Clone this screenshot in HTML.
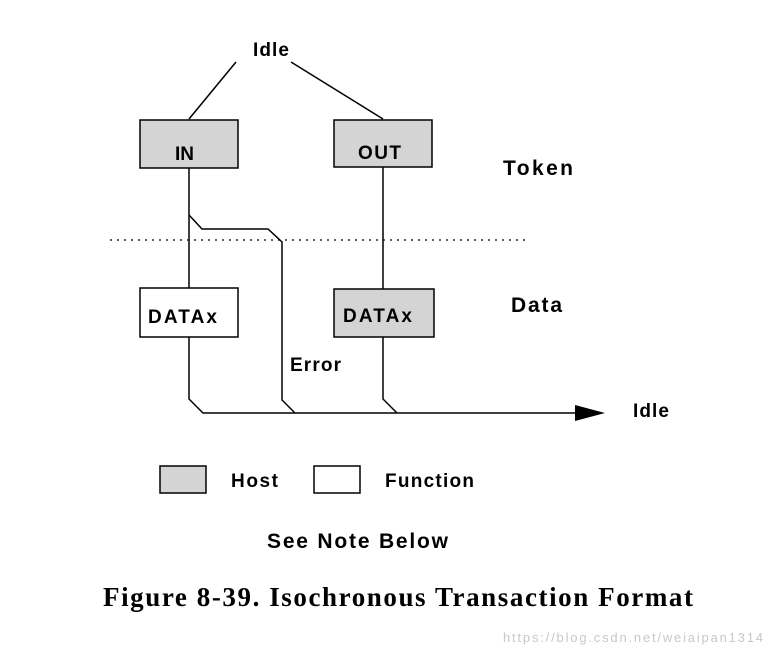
<!DOCTYPE html>
<html><head><style>
body{margin:0;background:#fff;}
svg text{font-family:"Liberation Sans",Arial,sans-serif;font-weight:bold;font-size:19px;fill:#000;}
</style></head><body>
<svg width="772" height="653" viewBox="0 0 772 653" xmlns="http://www.w3.org/2000/svg">
<text x="253" y="56" textLength="36">Idle</text>
<line x1="236" y1="62" x2="189" y2="119" stroke="#000" stroke-width="1.5"/>
<line x1="291" y1="62" x2="383" y2="119" stroke="#000" stroke-width="1.5"/>
<rect x="140" y="120" width="98" height="48" fill="#d4d4d4" stroke="#000" stroke-width="1.5"/>
<text x="175" y="160">IN</text>
<rect x="334" y="120" width="98" height="47" fill="#d4d4d4" stroke="#000" stroke-width="1.5"/>
<text x="358" y="159" textLength="43">OUT</text>
<text x="503" y="175" style="font-size:21px" textLength="70">Token</text>
<text x="511" y="312" style="font-size:21px" textLength="51">Data</text>
<line x1="110" y1="240" x2="528" y2="240" stroke="#000" stroke-width="1.2" stroke-dasharray="2,5"/>
<polyline points="189,168 189,288" fill="none" stroke="#000" stroke-width="1.5"/>
<polyline points="189,215 202,229 268,229 282,242 282,400 295,413" fill="none" stroke="#000" stroke-width="1.5"/>
<line x1="383" y1="167" x2="383" y2="289" stroke="#000" stroke-width="1.5"/>
<rect x="140" y="288" width="98" height="49" fill="#fff" stroke="#000" stroke-width="1.5"/>
<text x="148" y="323" textLength="69">DATAx</text>
<rect x="334" y="289" width="100" height="48" fill="#d4d4d4" stroke="#000" stroke-width="1.5"/>
<text x="343" y="322" textLength="69">DATAx</text>
<text x="290" y="371" textLength="51">Error</text>
<polyline points="189,337 189,399 203,413 580,413" fill="none" stroke="#000" stroke-width="1.5"/>
<polyline points="383,337 383,399 397,413" fill="none" stroke="#000" stroke-width="1.5"/>
<polygon points="575,405 605,413 575,421" fill="#000"/>
<text x="633" y="417" textLength="36">Idle</text>
<rect x="160" y="466" width="46" height="27" fill="#d4d4d4" stroke="#000" stroke-width="1.5"/>
<text x="231" y="487" textLength="47">Host</text>
<rect x="314" y="466" width="46" height="27" fill="#fff" stroke="#000" stroke-width="1.5"/>
<text x="385" y="487" textLength="89">Function</text>
<text x="267" y="548" style="font-size:21px" textLength="181">See Note Below</text>
<text x="103" y="606" style="font-family:'Liberation Serif',serif;font-size:27px" textLength="590">Figure 8-39.  Isochronous Transaction Format</text>
<text x="503" y="642" style="font-weight:normal;font-size:13px;fill:#c8c8c8" textLength="260">https://blog.csdn.net/weiaipan1314</text>
</svg>
</body></html>
